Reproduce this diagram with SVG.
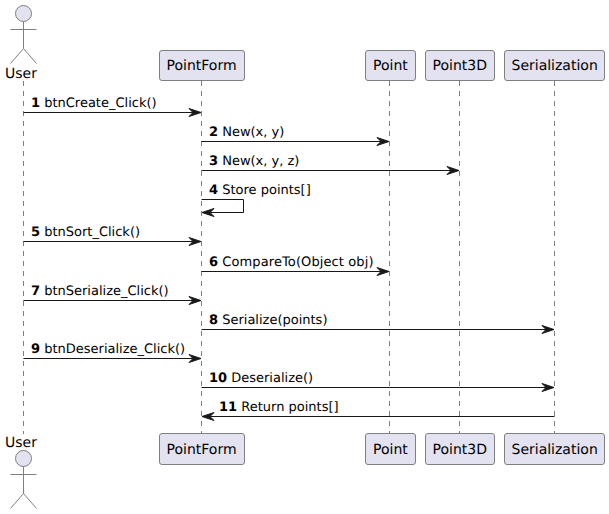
<svg xmlns="http://www.w3.org/2000/svg" width="609" height="514" viewBox="0 0 609 514">
<style>
text{font-family:"DejaVu Sans",sans-serif;fill:#000;text-rendering:geometricPrecision}
.p{fill:#E2E2F0;stroke:#7f7f7f;stroke-width:1}
.a{fill:none;stroke:#7f7f7f;stroke-width:1}
.ll{stroke:#7f7f7f;stroke-width:1;stroke-dasharray:5 5;fill:none}
.m{stroke:#181818;stroke-width:1;fill:none}
.h{fill:#181818;stroke:#181818;stroke-width:1}
.n{font-size:14px}
.l{font-size:13px}
.b{font-weight:bold}
</style>
<defs>
<path id="r" class="h" d="M-12,-4 L0,0 L-12,4 L-8,0 Z"/>
<path id="q" class="h" d="M12,-4 L0,0 L12,4 L8,0 Z"/>
<g id="actor"><circle class="p" cx="23.5" cy="0" r="8"/><path class="a" d="M23.5,8 V35 M10.5,16 H36.5 M23.5,35 L10.5,50 M23.5,35 L36.5,50"/></g>
</defs>
<g id="lifelines">
<path class="ll" d="M23.5,81 V434"/><path class="ll" d="M201.5,81 V434"/><path class="ll" d="M389.5,81 V434"/><path class="ll" d="M459.5,81 V434"/><path class="ll" d="M554.5,81 V434"/>
</g>
<g id="node-user"><use href="#actor" y="13.5"/><text class="n" x="5" y="78">User</text><text class="n" x="5" y="447">User</text><use href="#actor" y="458.5"/></g>
<g id="node-pointform"><rect class="p" x="159.5" y="50.5" width="85" height="30" rx="2.5"/><text class="n" x="166.5" y="70">PointForm</text><rect class="p" x="159.5" y="433.5" width="85" height="31" rx="2.5"/><text class="n" x="166.5" y="454">PointForm</text></g>
<g id="node-point"><rect class="p" x="365.5" y="50.5" width="50" height="30" rx="2.5"/><text class="n" x="373" y="70">Point</text><rect class="p" x="365.5" y="433.5" width="50" height="31" rx="2.5"/><text class="n" x="373" y="454">Point</text></g>
<g id="node-point3d"><rect class="p" x="425.5" y="50.5" width="69" height="30" rx="2.5"/><text class="n" x="432.5" y="70">Point3D</text><rect class="p" x="425.5" y="433.5" width="69" height="31" rx="2.5"/><text class="n" x="432.5" y="454">Point3D</text></g>
<g id="node-serialization"><rect class="p" x="504.5" y="50.5" width="100" height="30" rx="2.5"/><text class="n" x="511.5" y="70">Serialization</text><rect class="p" x="504.5" y="433.5" width="100" height="31" rx="2.5"/><text class="n" x="511.5" y="454">Serialization</text></g>
<g id="connectors">
<path class="m" d="M23.5,112.5 H200"/><use href="#r" x="201" y="112.5"/>
<path class="m" d="M201.5,141.5 H388"/><use href="#r" x="389" y="141.5"/>
<path class="m" d="M201.5,170.5 H458"/><use href="#r" x="459" y="170.5"/>
<path class="m" d="M201.5,199.5 H243.5 V212.5 H203"/><use href="#q" x="202" y="212.5"/>
<path class="m" d="M23.5,241.5 H200"/><use href="#r" x="201" y="241.5"/>
<path class="m" d="M201.5,271.5 H388"/><use href="#r" x="389" y="271.5"/>
<path class="m" d="M23.5,300.5 H200"/><use href="#r" x="201" y="300.5"/>
<path class="m" d="M201.5,329.5 H553"/><use href="#r" x="554" y="329.5"/>
<path class="m" d="M23.5,358.5 H200"/><use href="#r" x="201" y="358.5"/>
<path class="m" d="M201.5,387.5 H553"/><use href="#r" x="554" y="387.5"/>
<path class="m" d="M554.5,416.5 H203"/><use href="#q" x="202" y="416.5"/>
</g>
<g id="labels" class="l">
<text x="31" y="107"><tspan class="b">1</tspan> btnCreate_Click()</text>
<text x="209" y="136"><tspan class="b">2</tspan> New(x, y)</text>
<text x="209" y="165"><tspan class="b">3</tspan> New(x, y, z)</text>
<text x="209" y="194"><tspan class="b">4</tspan> Store points[]</text>
<text x="31" y="236"><tspan class="b">5</tspan> btnSort_Click()</text>
<text x="209" y="266" textLength="164.5"><tspan class="b">6</tspan> CompareTo(Object obj)</text>
<text x="31" y="295"><tspan class="b">7</tspan> btnSerialize_Click()</text>
<text x="209" y="324"><tspan class="b">8</tspan> Serialize(points)</text>
<text x="31" y="353"><tspan class="b">9</tspan> btnDeserialize_Click()</text>
<text x="209" y="382"><tspan class="b">10</tspan> Deserialize()</text>
<text x="219" y="411"><tspan class="b">11</tspan> Return points[]</text>
</g>
</svg>
